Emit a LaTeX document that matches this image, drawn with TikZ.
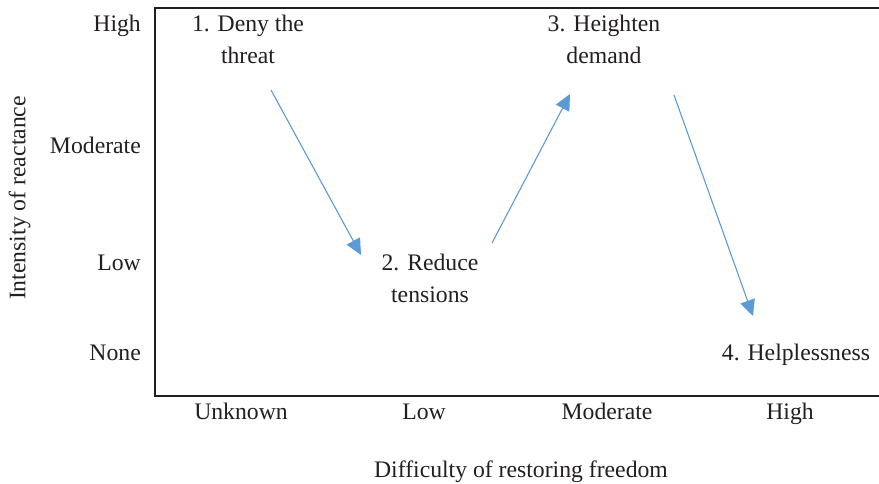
\documentclass[tikz,border=0pt]{standalone}
\usepackage{fontspec}
\setmainfont{Liberation Serif}
\usetikzlibrary{arrows.meta,positioning,calc}
\definecolor{flowblue}{HTML}{5B9BD5}
\definecolor{ink}{HTML}{231F20}

\begin{document}
\begin{tikzpicture}[x=1pt,y=1pt,stage/.style={align=center,inner sep=0pt,text=ink,font=\fontsize{23.7}{32}\selectfont},lbl/.style={inner sep=0pt,text=ink,text height=0.7em,text depth=0.22em,font=\fontsize{23.7}{28}\selectfont},flow/.style={->,draw=flowblue,line width=1.1pt},>={Triangle[length=16pt,width=15pt]}]
\useasboundingbox (0,0) rectangle (879,483);
% frame (open on the right)
\draw[ink,line width=1.7pt] (879,475) -| (155,87) -- (879,87);
% axis labels
\node[lbl,anchor=east] (yhigh) at (141,454) {High};
\node[lbl,anchor=east] (ymod) at (141,332) {Moderate};
\node[lbl,anchor=east] (ylow) at (141,215) {Low};
\node[lbl,anchor=east] (ynone) at (141,125) {None};
\node[lbl] (xunk) at (241,66) {Unknown};
\node[lbl] (xlow) at (424,66) {Low};
\node[lbl] (xmod) at (607,66) {Moderate};
\node[lbl] (xhigh) at (790,66) {High};
\node[lbl,rotate=90] (ytitle) at (23,285) {Intensity of reactance};
\node[lbl] (xtitle) at (521,8) {Difficulty of restoring freedom};
% stages
\node[stage] (deny) at (248,444) {1. Deny the\\threat};
\node[stage] (reduce) at (430,205) {2. Reduce\\tensions};
\node[stage] (heighten) at (604,444) {3. Heighten\\demand};
\node[stage] (helpless) at (796,128) {4. Helplessness};
\draw[flow] ([shift={(23,-51)}]deny.center) -- ([shift={(-69,23)}]reduce.center);
\draw[flow] ([shift={(62,35)}]reduce.center) -- ([shift={(-34,-55)}]heighten.center);
\draw[flow] ([shift={(70,-56)}]heighten.center) -- ([shift={(-43,39)}]helpless.center);
\end{tikzpicture}
\end{document}
